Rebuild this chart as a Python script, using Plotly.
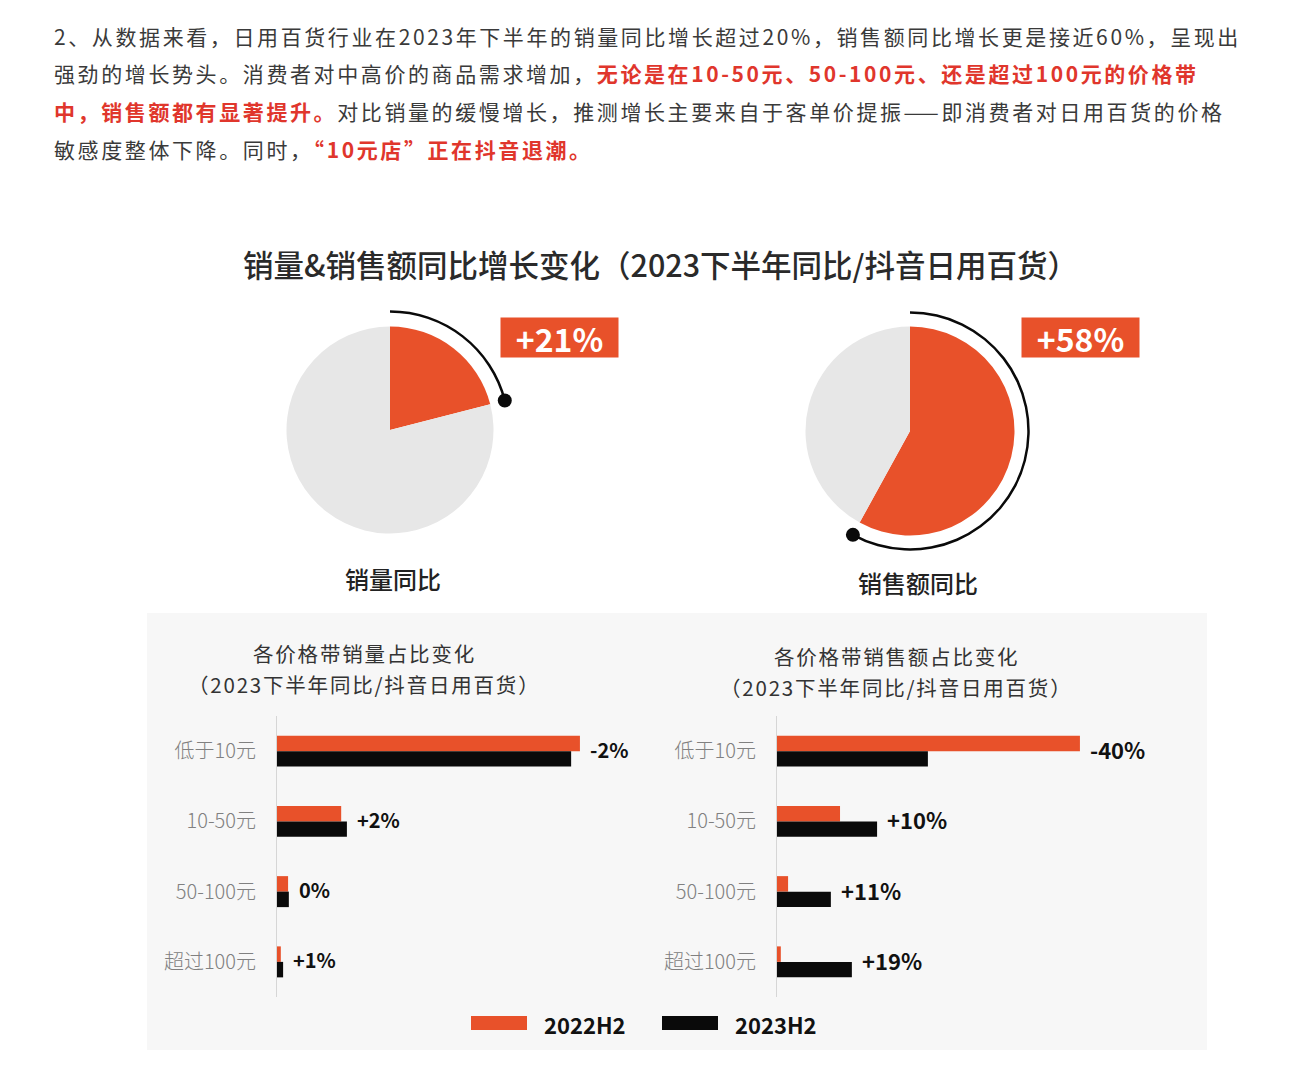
import plotly.graph_objects as go

W, H = 1304, 1080


def fx(x):
    return x / W


def fy(y):
    return 1 - y / H


FONT = "Noto Sans CJK SC"
ORANGE = "#e8512a"
BLACK = "#0a0a0a"
PIE_GRAY = "#e7e7e7"
RED = "#e0362c"
TXT = "#3a3a3a"

# ---------------- data ----------------
pie_labels = ["销量同比", "销售额同比"]
pie_values = [21, 58]  # YoY growth, %

categories = ["低于10元", "10-50元", "50-100元", "超过100元"]
vol_2022 = [79.3, 16.8, 2.9, 1.0]
vol_2023 = [77.0, 18.3, 3.1, 1.6]
vol_change = ["-2%", "+2%", "0%", "+1%"]
amt_2022 = [79.3, 16.5, 2.9, 1.0]
amt_2023 = [39.5, 26.2, 14.1, 19.6]
amt_change = ["-40%", "+10%", "+11%", "+19%"]
series_names = ["2022H2", "2023H2"]

paragraph = [
    [("2、从数据来看，日用百货行业在2023年下半年的销量同比增长超过20%，销售额同比增长更是接近60%，呈现出", False)],
    [("强劲的增长势头。消费者对中高价的商品需求增加，", False),
     ("无论是在10-50元、50-100元、还是超过100元的价格带", True)],
    [("中，销售额都有显著提升。", True),
     ("对比销量的缓慢增长，推测增长主要来自于客单价提振——即消费者对日用百货的价格", False)],
    [("敏感度整体下降。同时，", False), ("“10元店”正在抖音退潮。", True)],
]
main_title = "销量&销售额同比增长变化（2023下半年同比/抖音日用百货）"
bar_title_1 = ["各价格带销量占比变化", "各价格带销售额占比变化"]
bar_title_2 = ["（2023下半年同比/抖音日用百货）", "（2023下半年同比/抖音日用百货）"]

fig = go.Figure()
annotations = []
shapes = []

# ---------------- paragraph ----------------
para_y = [36, 73, 111, 149]
LS = 2.6
for line, yy in zip(paragraph, para_y):
    txt = ""
    for seg, red in line:
        if red:
            txt += f"<span style='letter-spacing:{LS}px;color:{RED}'><b>{seg}</b></span>"
        else:
            txt += f"<span style='letter-spacing:{LS}px;color:{TXT}'>{seg}</span>"
    annotations.append(dict(x=fx(52), y=fy(yy), xref="paper", yref="paper", text=txt,
                            xanchor="left", yanchor="middle", showarrow=False,
                            font=dict(family=FONT, size=21, color=TXT)))

# ---------------- main title ----------------
annotations.append(dict(x=fx(660), y=fy(264), xref="paper", yref="paper", text=main_title,
                        xanchor="center", yanchor="middle", showarrow=False,
                        font=dict(family=FONT, size=30.5, color="#2a2a2a", weight=500)))

# ---------------- pies + arcs ----------------
pie_centers = [(390, 430), (910, 431)]
pie_r = [103.5, 104.5]
ARC_R = 118.5
RAD_MAX = 1.2
polar_names = ["polar", "polar2"]
label_pos = [(393, 578), (918, 582)]
badge_x = [559.5, 1080]
for i, (val, (cx, cy), r) in enumerate(zip(pie_values, pie_centers, pie_r)):
    fig.add_trace(go.Pie(values=[val, 100 - val], sort=False, direction="clockwise", rotation=0,
                         marker=dict(colors=[ORANGE, PIE_GRAY], line=dict(width=0)),
                         textinfo="none", hoverinfo="skip", showlegend=False,
                         domain=dict(x=[fx(cx - r), fx(cx + r)], y=[fy(cy + r), fy(cy - r)])))
    pr = ARC_R * RAD_MAX
    thick = 3.0 / pr
    fig.add_trace(go.Barpolar(r=[thick], base=[1 - thick / 2], theta=[val * 1.8], width=[val * 3.6],
                              marker=dict(color=BLACK, line=dict(width=0)),
                              subplot=polar_names[i], showlegend=False, hoverinfo="skip"))
    fig.add_trace(go.Scatterpolar(r=[1], theta=[val * 3.6], mode="markers",
                                  marker=dict(size=14, color=BLACK),
                                  subplot=polar_names[i], showlegend=False, hoverinfo="skip"))
    fig.layout[polar_names[i]] = dict(
        domain=dict(x=[fx(cx - pr), fx(cx + pr)], y=[fy(cy + pr), fy(cy - pr)]),
        bgcolor="rgba(0,0,0,0)",
        radialaxis=dict(visible=False, range=[0, RAD_MAX]),
        angularaxis=dict(visible=False, rotation=90, direction="clockwise"),
    )
    # badge
    annotations.append(dict(x=fx(badge_x[i]), y=fy(337.5), xref="paper", yref="paper",
                            text=f"<b>+{val}%</b>", showarrow=False, xanchor="center", yanchor="middle",
                            bgcolor=ORANGE, width=115, height=37,
                            font=dict(family=FONT, size=32, color="white")))
    # label
    lx, ly = label_pos[i]
    annotations.append(dict(x=fx(lx), y=fy(ly), xref="paper", yref="paper",
                            text=pie_labels[i], showarrow=False, xanchor="center", yanchor="middle",
                            font=dict(family=FONT, size=24, color="#222222", weight=500)))

# ---------------- panel ----------------
shapes.append(dict(type="rect", xref="paper", yref="paper", x0=fx(147), x1=fx(1207),
                   y0=fy(1050), y1=fy(613), fillcolor="#f7f7f7", line=dict(width=0), layer="below"))

# ---------------- bars ----------------
bar_sets = [(vol_2022, vol_2023, vol_change, "x", "y", 20),
            (amt_2022, amt_2023, amt_change, "x2", "y2", 22)]
for (a, b, chg, xa, ya, fs) in bar_sets:
    fig.add_trace(go.Bar(y=categories, x=a, orientation="h", name=series_names[0],
                         marker=dict(color=ORANGE, line=dict(width=0)),
                         xaxis=xa, yaxis=ya, showlegend=False, hoverinfo="skip"))
    fig.add_trace(go.Bar(y=categories, x=b, orientation="h", name=series_names[1],
                         marker=dict(color=BLACK, line=dict(width=0)),
                         xaxis=xa, yaxis=ya, showlegend=False, hoverinfo="skip"))
    for c, va, vb, lab in zip(categories, a, b, chg):
        annotations.append(dict(x=max(va, vb), y=c, xref=xa, yref=ya, text=f"<b>{lab}</b>",
                                xanchor="left", yanchor="middle", xshift=8, yshift=2, showarrow=False,
                                font=dict(family=FONT, size=fs, color="#111111")))

ydom = [fy(997), fy(716)]
yax = dict(domain=ydom, autorange="reversed", type="category", showline=True,
           linecolor="#d6d6d6", linewidth=1, ticks="", showgrid=False, zeroline=False,
           tickfont=dict(family=FONT, size=20, color="#808080", weight=300), ticklabelstandoff=16)
fig.update_layout(
    xaxis=dict(domain=[fx(277), fx(659)], range=[0, 100], visible=False, anchor="y"),
    yaxis=dict(yax, anchor="x"),
    xaxis2=dict(domain=[fx(777), fx(1159)], range=[0, 100], visible=False, anchor="y2"),
    yaxis2=dict(yax, anchor="x2"),
)

# bar titles (two lines each)
for t1, t2, cx, y1, y2 in zip(bar_title_1, bar_title_2, [364, 896], [653, 656], [684, 687]):
    for t, yy in ((t1, y1), (t2, y2)):
        annotations.append(dict(x=fx(cx), y=fy(yy), xref="paper", yref="paper",
                                text=f"<span style='letter-spacing:1.8px'>{t}</span>",
                                showarrow=False, xanchor="center", yanchor="middle", borderpad=0,
                                font=dict(family=FONT, size=20.5, color="#333333")))

# ---------------- legend ----------------
for name, col, x0 in zip(series_names, [ORANGE, BLACK], [471, 662]):
    shapes.append(dict(type="rect", xref="paper", yref="paper", x0=fx(x0), x1=fx(x0 + 56),
                       y0=fy(1030), y1=fy(1016), fillcolor=col, line=dict(width=0)))
    annotations.append(dict(x=fx(x0 + 71), y=fy(1024), xref="paper", yref="paper",
                            text=f"<b>{name}</b>", showarrow=False, xanchor="left", yanchor="middle",
                            font=dict(family=FONT, size=22, color="#111111")))

fig.update_layout(
    width=W, height=H, autosize=False,
    margin=dict(l=0, r=0, t=0, b=0),
    paper_bgcolor="white", plot_bgcolor="rgba(0,0,0,0)",
    barmode="group", bargap=0.559, bargroupgap=0,
    font=dict(family=FONT, color=TXT),
    annotations=annotations, shapes=shapes,
    showlegend=False,
)

fig.write_html("out.html")
